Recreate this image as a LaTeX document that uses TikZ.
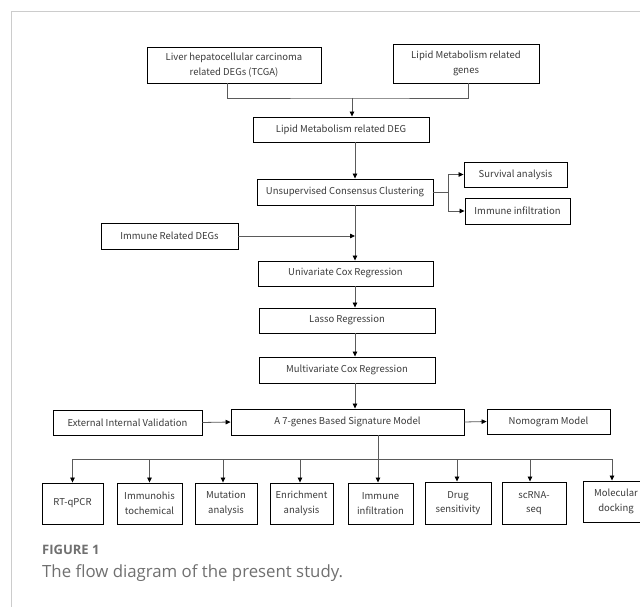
\documentclass[tikz,border=0pt]{standalone}
\usepackage{fontspec}
\setmainfont{Noto Sans CJK SC}
\newfontfamily\capfont{Open Sans}
\usetikzlibrary{arrows.meta}
\definecolor{boxtext}{HTML}{3A3A3A}
\definecolor{linecol}{HTML}{5A5A5A}
\definecolor{framecol}{HTML}{CCCCCC}
\definecolor{capcol}{HTML}{707070}
\tikzset{
  box/.style={draw=black, line width=0.9pt, align=center, inner sep=0pt,
    font=\fontsize{9.5}{14.5}\selectfont, text=boxtext},
  conn/.style={draw=linecol, line width=0.8pt},
  arr/.style={conn, -{Triangle[length=5pt,width=4.5pt,color=black]}},
}
\begin{document}
\begin{tikzpicture}[x=1pt,y=-1pt]
\useasboundingbox (0,0) rectangle (640,607);
\fill[white] (0,0) rectangle (640,607);
% frame
\draw[framecol, line width=0.8pt] (11,607) -- (11,11) -- (640,11);

% boxes
\node[box, minimum width=174pt, minimum height=36pt] (liver) at (234,65) {Liver hepatocellular carcinoma\\related DEGs (TCGA)};
\node[box, minimum width=146pt, minimum height=39pt] (lgenes) at (466,63.5) {Lipid Metabolism related\\genes};
\node[box, minimum width=176pt, minimum height=25pt] (ldeg) at (341,129.5) {Lipid Metabolism related DEG};
\node[box, minimum width=176pt, minimum height=26pt] (unsup) at (345,192) {Unsupervised Consensus Clustering};
\node[box, minimum width=103pt, minimum height=25pt] (surv) at (515.5,174.5) {Survival analysis};
\node[box, minimum width=105pt, minimum height=26pt] (iinf) at (517.5,211) {Immune infiltration};
\node[box, minimum width=137pt, minimum height=26pt] (irdeg) at (169.5,236) {Immune Related DEGs};
\node[box, minimum width=175pt, minimum height=25pt] (univ) at (345.5,273.5) {Univariate Cox Regression};
\node[box, minimum width=176pt, minimum height=25pt] (lasso) at (347,320.5) {Lasso Regression};
\node[box, minimum width=176pt, minimum height=26pt] (multi) at (347,370) {Multivariate Cox Regression};
\node[box, minimum width=149pt, minimum height=25pt] (ext) at (127.5,422.5) {External Internal Validation};
\node[box, minimum width=233pt, minimum height=26pt] (seven) at (347.5,422) {A 7-genes Based Signature Model};
\node[box, minimum width=123pt, minimum height=25pt] (nomo) at (548.5,421.5) {Nomogram Model};

\node[box, minimum width=61pt, minimum height=41pt] (rt) at (72.5,503.5) {RT-qPCR};
\node[box, minimum width=65pt, minimum height=41pt] (imh) at (149.5,503.5) {Immunohis\\tochemical};
\node[box, minimum width=62pt, minimum height=41pt] (mut) at (226,503.5) {Mutation\\analysis};
\node[box, minimum width=63pt, minimum height=41pt] (enr) at (301.5,503.5) {Enrichment\\analysis};
\node[box, minimum width=65pt, minimum height=41pt] (iinfb) at (380.5,503.5) {Immune\\infiltration};
\node[box, minimum width=66pt, minimum height=42pt] (drug) at (458,503) {Drug\\sensitivity};
\node[box, minimum width=64pt, minimum height=42pt] (scrna) at (534,503) {scRNA-\\seq};
\node[box, minimum width=66pt, minimum height=41pt] (mol) at (616,501.5) {Molecular\\docking};

% coordinates
\coordinate (m) at (352,98);
\coordinate (c1) at (355,0);
\coordinate (sp) at (448,192);
\coordinate (bus) at (378,459);

% top merge
\draw[conn] ([xshift=-7pt]liver.south) |- (m) -| ([xshift=2pt]lgenes.south);
\draw[arr] (m) -- (m |- ldeg.north);
\draw[arr] (ldeg.south -| c1) -- (unsup.north -| c1);
% clustering branches
\draw[conn] (unsup.east) -- (sp);
\draw[arr] (sp) |- (surv.west);
\draw[arr] (sp) |- (iinf.west);
% main column
\draw[arr] (unsup.south -| c1) -- (univ.north -| c1);
\draw[arr] (irdeg.east) -- (irdeg.east -| c1);
\draw[arr] (univ.south -| c1) -- (lasso.north -| c1);
\draw[arr] (lasso.south -| c1) -- (multi.north -| c1);
\draw[arr] (multi.south -| c1) -- (seven.north -| c1);
\draw[arr] (ext.east) -- (seven.west);
\draw[arr] (seven.east) -- (nomo.west);
% bottom bus
\draw[conn] (bus -| rt) -- (bus -| 612,0);
\draw[arr] (seven.south -| bus) -- (iinfb.north -| bus);
\draw[arr] (bus -| rt) -- (rt.north);
\draw[arr] (bus -| imh) -- (imh.north);
\draw[arr] (bus -| 223,0) -- (mut.north -| 223,0);
\draw[arr] (bus -| 300,0) -- (enr.north -| 300,0);
\draw[arr] (bus -| 457,0) -- (drug.north -| 457,0);
\draw[arr] (bus -| 530,0) -- (scrna.north -| 530,0);
\draw[arr] (bus -| 612,0) -- (mol.north -| 612,0);

% caption
\node[anchor=base west, inner sep=0pt, text=capcol, font=\capfont\bfseries\fontsize{13}{15}\selectfont] (fig) at (42,554) {FIGURE 1};
\node[anchor=base west, inner sep=0pt, text=capcol, font=\capfont\fontsize{16.8}{19}\selectfont] (cap) at (42,577) {The flow diagram of the present study.};
\end{tikzpicture}
\end{document}
